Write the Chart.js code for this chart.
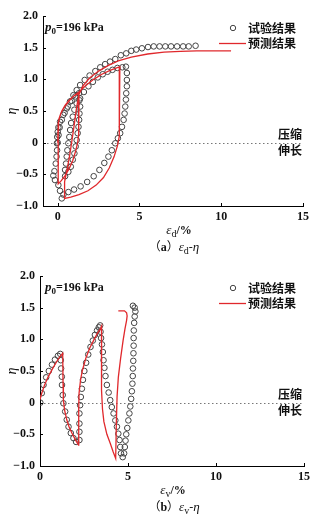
<!DOCTYPE html>
<html>
<head>
<meta charset="utf-8">
<script src="https://cdn.jsdelivr.net/npm/chart.js@4.4.1/dist/chart.umd.min.js"></script>
<style>
  html, body { margin: 0; padding: 0; background: #fff; }
  canvas { display: block; }
</style>
</head>
<body>
<canvas id="chartA" width="324" height="260"></canvas>
<canvas id="chartB" width="324" height="260"></canvas>
<script>
// axis ticks
const xTicks = [0, 5, 10, 15];
const yTicks = [-1, -0.5, 0, 0.5, 1, 1.5, 2];
const yTickLabels = ["−1.0", "−0.5", "0", "0.5", "1.0", "1.5", "2.0"];

// (a) εd - η : test results
const epsDExp = [
  0, 0.05, 0.12, 0.25, 0.42, 0.62, 0.85, 1.08, 1.3,
  1.33, 1.37, 1.33, 1.31, 1.27, 1.22, 1.16, 1.1, 1.02, 0.92, 0.8, 0.65, 0.45,
  0.45, 0.51, 0.55, 0.59, 0.65, 0.71, 0.76, 0.82, 0.92, 1.02, 1.16, 1.37, 1.6, 1.88, 2.15, 2.45, 2.75, 3.05, 3.35, 3.65, 3.95,
  4.17, 4.23, 4.23, 4.23, 4.19, 4.17, 4.13, 4.09, 4.03, 3.93, 3.82, 3.68, 3.52, 3.31, 3.1, 2.85, 2.55, 2.2, 1.8, 1.4, 1.0, 0.65, 0.35,
  0.25, 0.14, 0.04, -0.17, -0.27, -0.2, -0.12, -0.07, -0.04, -0.05, -0.03, 0.0, 0.04, 0.14, 0.34, 0.55, 0.75, 0.96, 1.16, 1.37,
  1.65, 1.95, 2.3, 2.6, 2.9, 3.2, 3.52, 3.86, 4.19, 4.5, 4.8, 5.15, 5.52, 5.87, 6.23, 6.58, 6.93, 7.3, 7.67, 8.01, 8.43
];
const etaDExp = [
  0, 0.12, 0.24, 0.36, 0.47, 0.57, 0.66, 0.73, 0.78,
  0.67, 0.57, 0.46, 0.36, 0.25, 0.15, 0.04, -0.06, -0.17, -0.27, -0.38, -0.46, -0.53,
  -0.43, -0.33, -0.22, -0.12, -0.01, 0.09, 0.2, 0.31, 0.41, 0.52, 0.62, 0.7, 0.8, 0.89, 0.96, 1.03, 1.08, 1.12, 1.15, 1.18, 1.19,
  1.2, 1.1, 0.99, 0.89, 0.78, 0.68, 0.57, 0.46, 0.36, 0.25, 0.15, 0.07, -0.01, -0.12, -0.22, -0.32, -0.43, -0.53, -0.62, -0.69, -0.74, -0.78, -0.82,
  -0.88, -0.76, -0.67, -0.59, -0.52, -0.45, -0.33, -0.22, -0.12, -0.01, 0.09, 0.17, 0.24, 0.33, 0.44, 0.54, 0.65, 0.75, 0.83, 0.91,
  0.99, 1.06, 1.13, 1.19, 1.24, 1.28, 1.32, 1.38, 1.41, 1.45, 1.47, 1.49, 1.51, 1.52, 1.52, 1.52, 1.52, 1.52, 1.52, 1.52, 1.53
];

// (a) εd - η : predicted
const epsDPred = [
  0, 0.02, 0.05, 0.12, 0.25, 0.45, 0.7, 1.0, 1.3,
  1.29, 1.27, 1.22, 1.1, 0.92, 0.7, 0.45, 0.22, 0.03,
  0.03, 0.08, 0.2, 0.4, 0.7, 1.0, 1.3, 1.7, 2.2, 2.7, 3.2, 3.8,
  3.78, 3.75, 3.65, 3.45, 3.15, 2.8, 2.35, 1.85, 1.3, 0.8, 0.42,
  0.42, 0.55, 0.72, 0.88, 1.02, 1.15, 1.3, 1.55, 1.95, 2.5, 3.1, 3.7, 4.5, 5.5, 6.5, 7.5, 8.5, 9.5, 10.6
];
const etaDPred = [
  0, 0.2, 0.32, 0.41, 0.5, 0.59, 0.67, 0.74, 0.78,
  0.4, 0.12, 0.0, -0.13, -0.28, -0.41, -0.52, -0.6, -0.65,
  0.3, 0.38, 0.47, 0.56, 0.66, 0.74, 0.8, 0.9, 1.0, 1.08, 1.14, 1.2,
  0.3, 0.1, -0.05, -0.22, -0.4, -0.55, -0.67, -0.76, -0.82, -0.86, -0.88,
  -0.62, -0.45, -0.22, 0.05, 0.3, 0.55, 0.76, 0.9, 1.02, 1.13, 1.22, 1.29, 1.35, 1.4, 1.43, 1.44, 1.45, 1.45, 1.45
];

// (b) εv - η : test results
const epsVExp = [
  0.02, 0.1, 0.2, 0.35, 0.5, 0.68, 0.85, 1.02, 1.15,
  1.18, 1.2, 1.24, 1.25, 1.29, 1.33, 1.43, 1.52, 1.62, 1.75, 1.9, 2.05,
  2.24, 2.24, 2.24, 2.24, 2.28, 2.32, 2.38, 2.44, 2.52, 2.62, 2.74, 2.87, 3.0, 3.12, 3.24, 3.34, 3.42,
  3.44, 3.47, 3.52, 3.57, 3.61, 3.66, 3.72, 3.8, 3.9, 3.99, 4.08, 4.18, 4.28, 4.37, 4.45, 4.52, 4.56, 4.6, 4.7,
  4.78, 4.82, 4.86, 4.9, 4.96, 5.02, 5.08, 5.13, 5.18, 5.22, 5.25, 5.27, 5.28, 5.3, 5.31, 5.32, 5.32, 5.33, 5.35, 5.38, 5.42, 5.38, 5.28
];
const etaVExp = [
  0, 0.15, 0.28, 0.4, 0.5, 0.6, 0.68, 0.74, 0.77,
  0.67, 0.54, 0.41, 0.28, 0.12, -0.01, -0.14, -0.27, -0.38, -0.48, -0.56, -0.62,
  -0.59, -0.46, -0.33, -0.17, -0.04, 0.09, 0.22, 0.36, 0.5, 0.63, 0.76, 0.88, 0.98, 1.07, 1.14, 1.19, 1.22,
  1.12, 1.02, 0.92, 0.8, 0.67, 0.55, 0.42, 0.28, 0.16, 0.04, -0.07, -0.17, -0.28, -0.38, -0.49, -0.59, -0.7, -0.8, -0.86,
  -0.8, -0.7, -0.6, -0.5, -0.4, -0.28, -0.17, -0.06, 0.06, 0.18, 0.3, 0.42, 0.54, 0.66, 0.78, 0.9, 1.02, 1.14, 1.26, 1.36, 1.44, 1.5, 1.53
];

// (b) εv - η : predicted
const epsVPred = [
  0, 0.1, 0.25, 0.45, 0.7, 0.95, 1.15, 1.29,
  1.31, 1.33, 1.4, 1.52, 1.65, 1.81, 2.0, 2.19,
  2.2, 2.22, 2.3, 2.4, 2.6, 2.82, 3.04, 3.25, 3.42, 3.5,
  3.49, 3.5, 3.55, 3.63, 3.8, 4.0, 4.15, 4.3,
  4.34, 4.38, 4.45, 4.58, 4.72, 4.83, 4.92, 4.95, 4.92, 4.8, 4.6, 4.45
];
const etaVPred = [
  0.05, 0.15, 0.27, 0.4, 0.53, 0.65, 0.73, 0.78,
  0.3, 0.04, -0.12, -0.27, -0.38, -0.48, -0.58, -0.67,
  -0.1, 0.15, 0.35, 0.5, 0.7, 0.86, 0.98, 1.09, 1.16, 1.21,
  0.6, 0.2, -0.1, -0.3, -0.5, -0.65, -0.77, -0.88,
  -0.3, 0.1, 0.4, 0.7, 0.98, 1.17, 1.3, 1.37, 1.42, 1.45, 1.45, 1.45
];

const SERIF = '"Liberation Serif", "DejaVu Serif", serif';
const CJK = '"Noto Sans CJK SC", sans-serif';
const RED = "#e0282c";
const INK = "#111";

function pairs(xs, ys) {
  return xs.map((x, i) => ({ x: x, y: ys[i] }));
}

// draw a run of text pieces [text, font, dy]
function rich(ctx, parts, x, y, center) {
  let w = 0;
  parts.forEach(p => { ctx.font = p[1]; w += ctx.measureText(p[0]).width; });
  let cx = center ? x - w / 2 : x;
  ctx.textAlign = "left";
  ctx.textBaseline = "alphabetic";
  parts.forEach(p => {
    ctx.font = p[1];
    ctx.fillText(p[0], cx, y + (p[2] || 0));
    cx += ctx.measureText(p[0]).width;
  });
}

const decor = {
  id: "decor",
  beforeDatasetsDraw(chart) {
    const { ctx, chartArea: a, scales } = chart;
    const y0 = Math.round(scales.y.getPixelForValue(0)) + 0.5;
    ctx.save();
    ctx.strokeStyle = "#777";
    ctx.lineWidth = 1;
    ctx.setLineDash([1.5, 2.5]);
    ctx.beginPath();
    ctx.moveTo(a.left, y0);
    ctx.lineTo(a.right, y0);
    ctx.stroke();
    ctx.restore();
  },
  afterDraw(chart, args, o) {
    const { ctx, chartArea: a, scales } = chart;
    ctx.save();
    // inward tick marks
    ctx.strokeStyle = "#000";
    ctx.lineWidth = 1;
    ctx.beginPath();
    xTicks.forEach(v => {
      const px = Math.round(scales.x.getPixelForValue(v)) + 0.5;
      ctx.moveTo(px, a.bottom);
      ctx.lineTo(px, a.bottom - 3);
    });
    yTicks.forEach(v => {
      const py = Math.round(scales.y.getPixelForValue(v)) + 0.5;
      ctx.moveTo(a.left, py);
      ctx.lineTo(a.left + 3, py);
    });
    ctx.stroke();

    ctx.fillStyle = INK;
    // p0 label
    rich(ctx, [
      ["p", "italic bold 13px " + SERIF],
      ["0", "bold 9px " + SERIF, 3],
      ["=196 kPa", "bold 12px " + SERIF]
    ], 45, 31, false);

    // legend
    ctx.strokeStyle = "#444";
    ctx.lineWidth = 1;
    ctx.beginPath();
    ctx.arc(233, 28, 2.7, 0, Math.PI * 2);
    ctx.stroke();
    ctx.strokeStyle = RED;
    ctx.lineWidth = 1.3;
    ctx.beginPath();
    ctx.moveTo(219, 43.5);
    ctx.lineTo(246, 43.5);
    ctx.stroke();
    ctx.font = "bold 12px " + CJK;
    ctx.textBaseline = "middle";
    ctx.fillText("试验结果", 248, 28);
    ctx.fillText("预测结果", 248, 43);

    // compression / extension marks
    const y0 = scales.y.getPixelForValue(0);
    ctx.fillText("压缩", 278, y0 - 8);
    ctx.fillText("伸长", 278, y0 + 8);

    // axis title and caption
    rich(ctx, [
      ["ε", "italic 13px " + SERIF],
      [o.sub, "10px " + SERIF, 3],
      ["/%", "bold 12px " + SERIF]
    ], o.titleX, 234, true);
    rich(ctx, [
      ["（", "12px " + CJK],
      [o.tag, "bold 12px " + SERIF],
      ["）", "12px " + CJK],
      ["ε", "italic 13px " + SERIF],
      [o.sub, "10px " + SERIF, 3],
      ["-", "12px " + SERIF],
      ["η", "italic 13px " + SERIF]
    ], 174, 251, true);
    ctx.restore();
  }
};

function build(id, o) {
  return new Chart(document.getElementById(id), {
    type: "scatter",
    data: {
      datasets: [
        {
          data: pairs(o.predX, o.predY),
          showLine: true,
          borderColor: RED,
          borderWidth: 1.3,
          pointRadius: 0,
          tension: 0
        },
        {
          data: pairs(o.expX, o.expY),
          showLine: false,
          pointRadius: 2.8,
          pointBorderColor: "#444",
          pointBorderWidth: 1,
          pointBackgroundColor: "rgba(0,0,0,0)"
        }
      ]
    },
    options: {
      responsive: false,
      animation: false,
      devicePixelRatio: 1,
      layout: { padding: { left: 0, right: o.padR, top: 16, bottom: 34 } },
      plugins: {
        legend: { display: false },
        tooltip: { enabled: false },
        decor: o
      },
      scales: {
        x: {
          type: "linear",
          min: o.xMin,
          max: 15,
          afterBuildTicks: s => { s.ticks = xTicks.map(v => ({ value: v })); },
          afterFit: s => { s.height = 20; },
          grid: { drawOnChartArea: false, drawTicks: false },
          border: { color: "#000", width: 1 },
          ticks: { color: INK, font: { family: SERIF, size: 12, weight: "bold" }, padding: 4, maxRotation: 0 }
        },
        y: {
          type: "linear",
          min: -1,
          max: 2,
          afterBuildTicks: s => { s.ticks = yTicks.map(v => ({ value: v })); },
          afterFit: s => { s.width = o.axisW; },
          grid: { drawOnChartArea: false, drawTicks: false },
          border: { color: "#000", width: 1 },
          ticks: {
            color: INK,
            font: { family: SERIF, size: 12, weight: "bold" },
            padding: 5,
            callback: v => yTickLabels[yTicks.indexOf(v)]
          },
          title: {
            display: true,
            text: "η",
            color: INK,
            font: { family: SERIF, size: 14, style: "italic" },
            padding: { top: 4, bottom: 0 }
          }
        }
      }
    },
    plugins: [decor]
  });
}

build("chartA", {
  expX: epsDExp, expY: etaDExp, predX: epsDPred, predY: etaDPred,
  xMin: -0.9, axisW: 43, padR: 21, sub: "d", tag: "a", titleX: 179
});
build("chartB", {
  expX: epsVExp, expY: etaVExp, predX: epsVPred, predY: etaVPred,
  xMin: 0, axisW: 40, padR: 20, sub: "v", tag: "b", titleX: 173
});
</script>
</body>
</html>
